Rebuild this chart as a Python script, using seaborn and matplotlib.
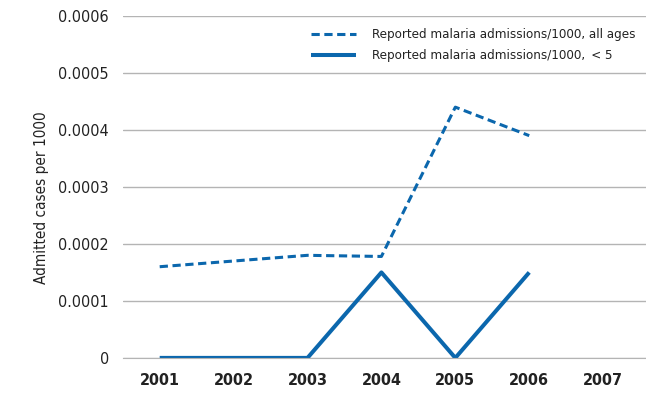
import pandas as pd
import numpy as np
import seaborn as sns
import matplotlib.pyplot as plt
from matplotlib.ticker import FuncFormatter

years = ['2001', '2002', '2003', '2004', '2005', '2006', '2007']
all_ages = [0.00016, 0.00017, 0.00018, 0.000178, 0.00044, 0.00039]
under5 = [0, 0, 0, 0.00015, 0, 0.00015]
label_all = 'Reported malaria admissions/1000, all ages'
label_u5 = 'Reported malaria admissions/1000, \u2009< 5'

blue = '#0b67ad'
grid_col = '#b4b4b4'

sns.set_style('white')
plt.rcParams['font.family'] = ['DejaVu Sans']
plt.rcParams['font.stretch'] = 'condensed'

df = pd.DataFrame({
    'x': list(range(len(all_ages))) * 2,
    'value': all_ages + under5,
    'series': [label_all] * len(all_ages) + [label_u5] * len(under5),
})

fig = plt.figure(figsize=(6.46, 3.99), dpi=100)
ax = fig.add_axes([0.19, 0.103, 0.81, 0.857])

sns.lineplot(data=df[df['series'] == label_all], x='x', y='value', ax=ax,
             color=blue, lw=2.2, linestyle=(0, (2.7, 1.5)), label=label_all)
sns.lineplot(data=df[df['series'] == label_u5], x='x', y='value', ax=ax,
             color=blue, lw=2.9, label=label_u5, solid_capstyle='butt')

ax.set_xlim(-0.5, 6.58)
ax.set_ylim(0, 0.0006)
ax.set_yticks(np.arange(0, 0.00061, 0.0001))
ax.yaxis.set_major_formatter(FuncFormatter(lambda v, p: '0' if abs(v) < 1e-9 else f'{v:.4f}'))
ax.yaxis.grid(True, color=grid_col, lw=1)
ax.tick_params(axis='y', length=0, pad=10, labelsize=11.5, labelcolor='#222222')

ax.set_xticks(range(len(years)))
ax.set_xticklabels(years, fontweight='bold', fontsize=11.5, color='#222222')
ax.set_xticks(np.arange(-0.5, 7.0, 1.0), minor=True)
ax.tick_params(axis='x', which='major', length=0, pad=11)
ax.tick_params(axis='x', which='minor', length=15, color=grid_col, width=1)

for s in ['top', 'right', 'left']:
    ax.spines[s].set_visible(False)
ax.spines['bottom'].set_color(grid_col)
ax.set_xlabel('')
ax.set_ylabel('Admitted cases per 1000', fontsize=11, color='#222222')
ax.yaxis.set_label_coords(-0.14, 0.47)

leg = ax.legend(loc='upper right', bbox_to_anchor=(1.0, 0.995), frameon=True,
                fontsize=9.5, handlelength=3.4, labelspacing=0.6, borderpad=0.3,
                handletextpad=1.2, facecolor='white', edgecolor='white', framealpha=1)
for t in leg.get_texts():
    t.set_color('#222222')

fig.savefig('out.png', dpi=100)
